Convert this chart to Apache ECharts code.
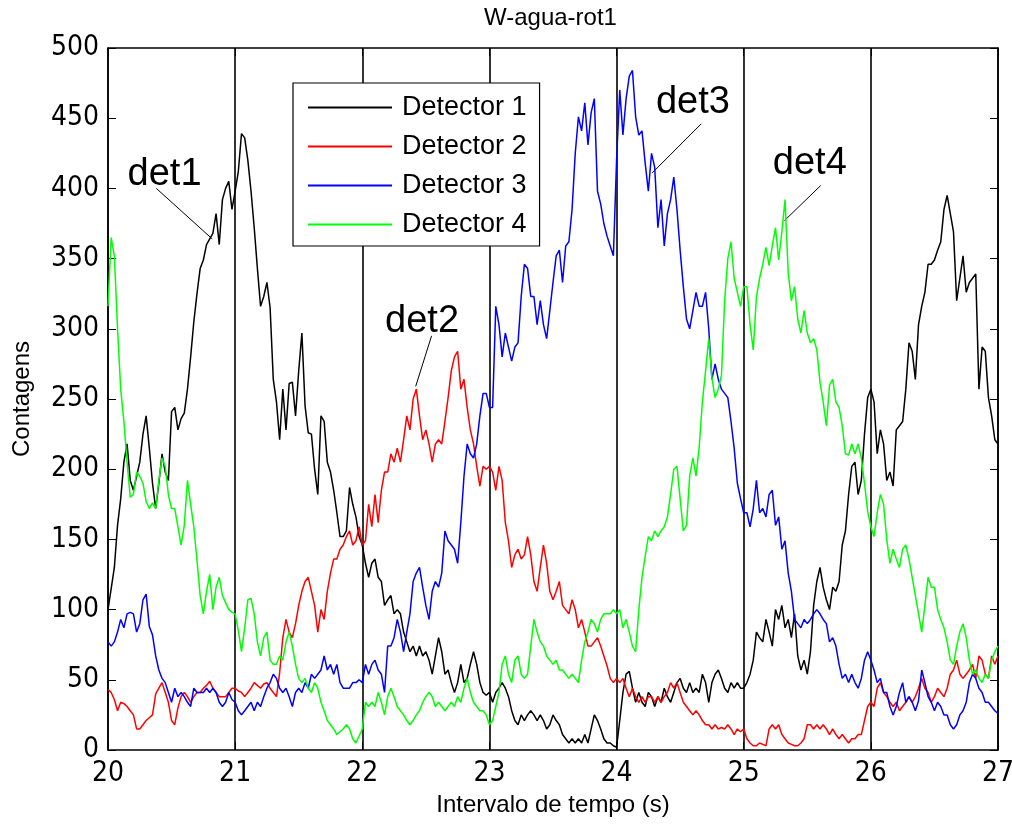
<!DOCTYPE html>
<html>
<head>
<meta charset="utf-8">
<script src="https://cdn.jsdelivr.net/npm/echarts@6/dist/echarts.min.js"></script>
<style>html,body{margin:0;padding:0;background:#fff;}#c{width:1012px;height:825px;}</style>
</head>
<body>
<div id="c"></div>
<script>
// Sample times: start 20 s, one sample every 0.025 s (281 samples up to 27 s)
const tStart = 20;
const tStep = 0.025;
const xTicks = [20, 21, 22, 23, 24, 25, 26, 27];
const yTicks = [0, 50, 100, 150, 200, 250, 300, 350, 400, 450, 500];
const seriesNames = ['Detector 1', 'Detector 2', 'Detector 3', 'Detector 4'];

const det1 = [
100,115,130,160,179,205,218,192,185,195,205,225,238,215,190,172,190,211,198,192,241,244,228,236,240,257,280,305,325,343,349,360,364,368,382,360,392,400,405,385,
398,412,439,436,420,398,372,343,316,323,333,315,264,248,221,257,228,261,262,238,270,297,245,226,225,200,182,238,234,205,198,185,169,152,152,156,187,175,166,152,
146,133,123,133,136,123,120,103,107,110,97,100,97,84,77,70,74,67,74,67,70,64,54,67,80,70,54,57,48,41,48,61,48,51,61,70,61,48,41,39,
41,34,41,44,48,44,38,28,21,18,25,21,25,28,25,21,25,21,15,18,25,21,18,11,8,5,8,5,8,5,11,5,15,25,21,15,8,5,5,3,
2,21,41,54,56,44,34,41,34,31,41,38,31,38,34,44,38,34,41,48,51,44,41,48,41,44,41,54,48,34,48,54,57,51,44,41,48,44,48,44,
44,48,54,64,84,80,77,93,84,74,100,93,103,87,93,80,97,67,57,64,54,70,103,120,130,116,107,100,116,113,120,146,156,182,202,205,182,192,225,251,
257,248,211,228,218,192,198,188,228,231,234,257,290,284,264,303,316,326,346,346,349,356,362,385,395,382,369,320,336,352,326,333,336,339,257,287,284,251,238,221,
218
];
const det2 = [
43,41,36,28,34,33,31,28,25,15,15,18,21,23,25,40,44,48,41,34,21,18,30,38,41,38,34,38,41,41,44,46,49,44,41,38,38,38,41,44,
44,42,41,38,41,44,48,46,44,47,48,44,41,38,55,80,93,84,80,90,103,113,120,123,113,103,84,100,93,113,126,136,136,143,146,152,156,146,149,159,
146,149,175,159,182,162,185,198,198,211,205,215,205,221,238,228,250,257,238,221,228,218,205,218,221,218,234,251,270,280,284,257,264,244,228,218,202,188,202,200,
202,198,185,202,192,162,149,130,139,143,136,139,152,139,120,113,130,146,133,113,107,113,120,103,100,97,107,100,87,93,84,74,74,77,80,74,67,60,51,48,
51,48,51,44,38,44,38,34,38,34,38,38,34,38,34,38,41,48,44,48,41,34,31,28,25,28,25,21,18,18,15,18,15,16,15,18,15,11,15,13,
15,8,5,3,3,5,4,3,15,18,15,18,11,8,5,4,3,3,5,8,18,18,15,18,15,18,15,11,15,11,8,11,8,5,8,8,11,11,21,31,
34,31,44,48,41,38,34,31,34,28,31,34,38,34,38,44,51,44,41,34,38,44,41,38,44,54,57,64,54,51,54,57,61,51,67,64,54,51,67,61,
67
];
const det3 = [
77,74,77,84,93,87,97,98,97,84,90,107,111,88,82,67,57,51,48,41,34,44,38,41,38,34,31,44,41,41,41,44,41,44,41,34,31,34,41,36,
34,28,25,28,31,34,28,34,31,38,44,48,54,51,44,41,44,38,31,41,44,41,48,44,54,51,54,57,67,57,61,54,61,48,44,44,44,48,48,50,
48,61,54,61,64,57,54,41,74,74,80,93,84,70,84,97,120,126,130,116,103,93,113,120,116,126,156,149,146,143,133,162,195,218,211,208,218,238,254,254,
244,244,316,303,280,297,287,277,287,290,323,346,343,323,323,303,320,303,293,313,333,352,356,333,359,362,385,425,451,441,461,431,454,464,398,389,375,366,359,352,
420,470,438,464,480,484,451,438,441,418,398,425,415,372,392,359,382,392,408,385,356,330,307,300,313,326,316,316,326,300,264,275,264,257,254,251,234,215,190,179,
169,169,159,172,192,169,172,166,182,185,160,166,143,149,126,113,93,90,87,93,90,93,97,100,97,93,90,77,80,74,61,51,54,48,54,48,44,51,64,70,
64,57,48,51,41,41,31,25,31,41,48,34,38,34,28,35,57,48,38,34,28,34,31,25,25,18,15,18,25,28,34,48,54,51,44,41,34,34,31,28,
26
];
const det4 = [
316,365,352,300,257,234,205,180,182,198,195,190,177,172,176,172,192,208,202,182,172,172,159,146,160,192,175,159,135,110,97,113,125,100,116,123,110,105,100,98,
97,85,70,87,107,108,97,77,67,80,84,64,61,61,67,64,77,84,74,61,51,48,51,44,41,48,44,34,28,21,18,15,11,13,15,18,15,8,5,10,
15,34,31,34,31,41,34,25,38,44,38,31,28,25,21,18,21,25,28,34,38,41,38,31,34,31,28,31,34,31,38,34,44,51,41,34,31,28,28,25,
18,21,31,41,61,67,54,48,64,67,54,51,54,74,93,84,77,74,67,64,61,64,57,57,54,51,54,51,48,64,77,84,93,90,84,93,97,97,97,100,
97,100,87,93,84,74,70,100,123,138,152,149,156,152,156,159,166,182,200,202,179,156,160,195,208,195,216,248,270,293,265,251,257,267,320,350,362,336,326,316,
330,330,303,285,323,336,346,358,345,359,372,349,369,392,340,320,330,307,297,313,297,290,293,285,262,248,231,260,264,248,244,231,211,210,218,211,218,208,190,170,
159,152,169,182,175,150,133,143,136,130,143,146,136,123,110,97,84,103,123,116,116,100,93,87,77,64,61,74,84,90,80,64,54,57,51,48,54,51,64,70,
74
];

// Annotation labels (data coordinates): text, label point, line start, line end
const annotations = [
  { text: 'det1', at: [20.445, 410], from: [20.38, 400], to: [20.82, 364] },
  { text: 'det2', at: [22.47, 305], from: [22.545, 295], to: [22.42, 259] },
  { text: 'det3', at: [24.60, 461], from: [24.666, 446], to: [24.28, 411] },
  { text: 'det4', at: [25.52, 418], from: [25.605, 402], to: [25.32, 377] }
];

const colors = ['#000000', '#ff0000', '#0000ff', '#00ff00'];
const FONT = '"Liberation Sans", Arial, Helvetica, sans-serif';
const TICKFONT = '"Liberation Sans Narrow", "DejaVu Sans Condensed", "Liberation Sans", Arial, sans-serif';

function pairs(vals) {
  return vals.map((v, i) => [+(tStart + i * tStep).toFixed(3), v]);
}

const chart = echarts.init(document.getElementById('c'), null, { renderer: 'canvas' });

const seriesData = [det1, det2, det3, det4];
const series = seriesData.map((d, k) => ({
  name: seriesNames[k],
  type: 'line',
  data: pairs(d),
  symbol: 'none',
  showSymbol: false,
  sampling: false,
  lineStyle: { color: colors[k], width: 1.5 },
  itemStyle: { color: colors[k] },
  silent: true,
  z: 3 + k,
  animation: false
}));

// annotation series (no data, only marks)
series.push({
  name: 'annot',
  type: 'line',
  data: [],
  silent: true,
  z: 10,
  markLine: {
    silent: true,
    symbol: ['none', 'none'],
    animation: false,
    label: { show: false },
    lineStyle: { color: '#000', width: 1, type: 'solid' },
    emphasis: { disabled: true },
    data: annotations.map(a => [{ coord: a.from }, { coord: a.to }])
  },
  markPoint: {
    silent: true,
    animation: false,
    symbol: 'circle',
    symbolSize: 1,
    itemStyle: { color: 'rgba(0,0,0,0)' },
    label: {
      show: true,
      position: 'inside',
      color: '#000',
      fontSize: 38,
      fontFamily: FONT,
      formatter: p => p.name
    },
    data: annotations.map(a => ({ name: a.text, coord: a.at }))
  }
});

const option = {
  animation: false,
  backgroundColor: '#ffffff',
  title: {
    text: 'W-agua-rot1',
    left: 484,
    top: 6,
    padding: 0,
    textStyle: { fontFamily: FONT, fontSize: 24, fontWeight: 'normal', color: '#000' }
  },
  legend: {
    data: seriesNames,
    orient: 'vertical',
    left: 293,
    top: 83,
    padding: [11, 13, 8, 15],
    itemGap: 12,
    itemWidth: 84,
    itemHeight: 2,
    icon: 'rect',
    backgroundColor: '#ffffff',
    borderColor: '#000000',
    borderWidth: 1.2,
    borderRadius: 0,
    selectedMode: false,
    textStyle: { fontFamily: FONT, fontSize: 27, color: '#000', lineHeight: 27, padding: [0, 0, 0, 5] }
  },
  grid: { left: 108, right: 14, top: 48, bottom: 75, outerBoundsMode: 'none', containLabel: false },
  xAxis: [
    {
      type: 'value',
      min: xTicks[0],
      max: xTicks[xTicks.length - 1],
      interval: 1,
      name: 'Intervalo de tempo (s)',
      nameLocation: 'middle',
      nameGap: 41,
      nameTextStyle: { fontFamily: FONT, fontSize: 24, color: '#000' },
      axisLine: { show: true, onZero: false, lineStyle: { color: '#000', width: 1.5 } },
      axisTick: { show: true, inside: true, length: 8, lineStyle: { color: '#000' } },
      axisLabel: { margin: 10, fontFamily: TICKFONT, fontSize: 28, color: '#000', showMinLabel: true, showMaxLabel: true },
      splitLine: { show: true, lineStyle: { color: '#000', width: 1.6 } }
    },
    {
      type: 'value',
      position: 'top',
      min: xTicks[0],
      max: xTicks[xTicks.length - 1],
      interval: 1,
      axisLine: { show: true, onZero: false, lineStyle: { color: '#000', width: 1.5 } },
      axisTick: { show: true, inside: true, length: 8, lineStyle: { color: '#000' } },
      axisLabel: { show: false },
      splitLine: { show: false }
    }
  ],
  yAxis: [
    {
      type: 'value',
      min: yTicks[0],
      max: yTicks[yTicks.length - 1],
      interval: 50,
      name: 'Contagens',
      nameLocation: 'middle',
      nameGap: 74,
      nameTextStyle: { fontFamily: FONT, fontSize: 24, color: '#000' },
      axisLine: { show: true, onZero: false, lineStyle: { color: '#000', width: 1.5 } },
      axisTick: { show: true, inside: true, length: 8, lineStyle: { color: '#000' } },
      axisLabel: { margin: 9, fontFamily: TICKFONT, fontSize: 28, color: '#000' },
      splitLine: { show: false }
    },
    {
      type: 'value',
      position: 'right',
      min: yTicks[0],
      max: yTicks[yTicks.length - 1],
      interval: 50,
      axisLine: { show: true, onZero: false, lineStyle: { color: '#000', width: 1.5 } },
      axisTick: { show: true, inside: true, length: 8, lineStyle: { color: '#000' } },
      axisLabel: { show: false },
      splitLine: { show: false }
    }
  ],
  series: series
};

chart.setOption(option);
</script>
</body>
</html>
